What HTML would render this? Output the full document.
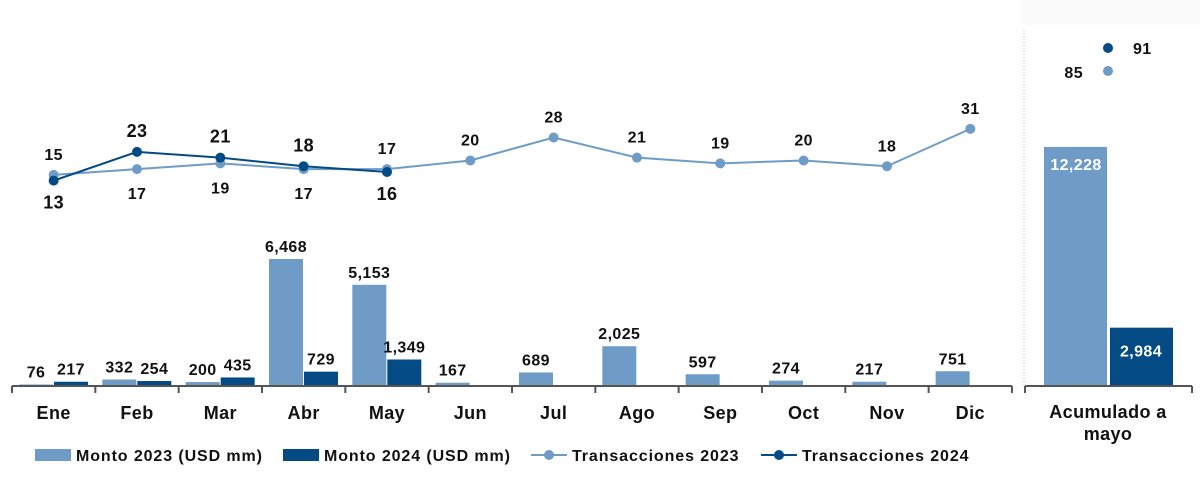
<!DOCTYPE html>
<html><head><meta charset="utf-8"><style>
html,body{margin:0;padding:0;background:#fff;}
svg{display:block;font-family:"Liberation Sans",sans-serif;font-weight:bold;}
</style></head><body>
<svg id="chart" width="1200" height="495" viewBox="0 0 1200 495">
<rect x="1020" y="0" width="180" height="25" fill="#fbfbfb"/>
<g id="bars"></g><g id="lines"></g><g id="labels"></g><g id="axis"></g><g id="legend"></g>
</svg>
<script>
const months=["Ene","Feb","Mar","Abr","May","Jun","Jul","Ago","Sep","Oct","Nov","Dic"];
const monto2023=[76,332,200,6468,5153,167,689,2025,597,274,217,751];
const monto2024=[217,254,435,729,1349];
const trans2023=[15,17,19,17,17,20,28,21,19,20,18,31];
const trans2024=[13,23,21,18,16];
const acumMonto=[12228,2984];
const acumTrans=[85,91];
const C1="#6f9cc7",C2="#044a84",NS="http://www.w3.org/2000/svg";
const base=386,x0=12,cw=83.33;
const yb=v=>base-v*0.01964;
const yl=v=>218-v*2.875;
const xc=i=>x0+cw*i+cw/2;
function mk(p,t,a){const e=document.createElementNS(NS,t);for(const k in a)e.setAttribute(k,a[k]);document.getElementById(p).appendChild(e);return e;}
function tx(p,x,y,s,o){const e=mk(p,"text",Object.assign({x:x,y:y,"text-anchor":"middle","font-size":16,fill:"#111","letter-spacing":0.4},o||{}));e.textContent=s;return e;}
const fmt=v=>v.toLocaleString("en-US");
monto2023.forEach((v,i)=>{const x=x0+cw*i+7;
 const r=mk("bars","rect",{x:x,y:yb(v),width:34,height:base-yb(v),fill:C1});
 
 
 const t=tx("labels",x+17,yb(v)-7,fmt(v));
 
 });
monto2024.forEach((v,i)=>{const x=x0+cw*i+42;
 const r=mk("bars","rect",{x:x,y:yb(v),width:34,height:base-yb(v),fill:C2});
 
 
 const t=tx("labels",x+17,yb(v)-7,fmt(v));
 
 });
function line(arr,col,name){
 const pl=mk("lines","polyline",{points:arr.map((v,i)=>xc(i)+","+yl(v)).join(" "),fill:"none",stroke:col,"stroke-width":2});
 
 
 arr.forEach((v,i)=>{const c=mk("lines","circle",{cx:xc(i),cy:yl(v),r:5,fill:col});
  
  });
}
line(trans2023,C1,"transacciones-2023");
line(trans2024,C2,"transacciones-2024");
trans2023.forEach((v,i)=>{const v2=trans2024[i];
 const above=(v2===undefined)||v>=v2;
 const t=tx("labels",xc(i),above?yl(v)-15:yl(v)+30,String(v),{"font-size":16});
 
 });
trans2024.forEach((v,i)=>{const above=v>trans2023[i];
 const t=tx("labels",xc(i),above?yl(v)-15:yl(v)+28,String(v),{"font-size":18});
 
 });
const ax=mk("axis","line",{x1:x0,y1:base,x2:x0+cw*12,y2:base,stroke:"#555","stroke-width":2});


for(let i=0;i<=12;i++){mk("axis","line",{x1:x0+cw*i,y1:base,x2:x0+cw*i,y2:base+7,stroke:"#555","stroke-width":2});}
months.forEach((m,i)=>{const t=tx("axis",xc(i),base+33,m,{"font-size":18});
 
 });
const sep=mk("axis","line",{x1:1024,y1:30,x2:1024,y2:base,stroke:"#bbb","stroke-width":1,"stroke-dasharray":"1,2"});


mk("axis","line",{x1:1025,y1:base,x2:1192,y2:base,stroke:"#555","stroke-width":2});
mk("axis","line",{x1:1025,y1:base,x2:1025,y2:base+7,stroke:"#555","stroke-width":2});
mk("axis","line",{x1:1192,y1:base,x2:1192,y2:base+7,stroke:"#555","stroke-width":2});
const ab=base-acumMonto[0]*0.01955, ab2=base-acumMonto[1]*0.01955;
const r1=mk("bars","rect",{x:1044,y:ab,width:63,height:base-ab,fill:C1});


const r2=mk("bars","rect",{x:1110,y:ab2,width:63,height:base-ab2,fill:C2});


tx("labels",1076,ab+23,fmt(acumMonto[0]),{fill:"#fff","font-size":16});
tx("labels",1141,ab2+29,fmt(acumMonto[1]),{fill:"#fff","font-size":16});
const d1=mk("lines","circle",{cx:1108,cy:48,r:5,fill:C2});


const d2=mk("lines","circle",{cx:1108,cy:71,r:5,fill:C1});


tx("labels",1133,54,String(acumTrans[1]),{"font-size":16,"text-anchor":"start"});
tx("labels",1083,78,String(acumTrans[0]),{"font-size":16,"text-anchor":"end"});
const a1=tx("axis",1108,418,"Acumulado a",{"font-size":18});


tx("axis",1108,440,"mayo",{"font-size":18});
const leg=[["Monto 2023 (USD mm)",C1,"bar",35],["Monto 2024 (USD mm)",C2,"bar",283],["Transacciones 2023",C1,"line",531],["Transacciones 2024",C2,"line",761]];
leg.forEach(l=>{const g=mk("legend","g",{});
 
 
 if(l[2]==="bar"){const r=document.createElementNS(NS,"rect");r.setAttribute("x",l[3]);r.setAttribute("y",449);r.setAttribute("width",36);r.setAttribute("height",12);r.setAttribute("fill",l[1]);g.appendChild(r);}
 else{const ln=document.createElementNS(NS,"line");ln.setAttribute("x1",l[3]);ln.setAttribute("x2",l[3]+36);ln.setAttribute("y1",455);ln.setAttribute("y2",455);ln.setAttribute("stroke",l[1]);ln.setAttribute("stroke-width",2);g.appendChild(ln);
  const c=document.createElementNS(NS,"circle");c.setAttribute("cx",l[3]+18);c.setAttribute("cy",455);c.setAttribute("r",5);c.setAttribute("fill",l[1]);g.appendChild(c);}
 const t=document.createElementNS(NS,"text");t.setAttribute("x",l[3]+41);t.setAttribute("y",461);t.setAttribute("font-size",16);t.setAttribute("letter-spacing",0.9);t.setAttribute("fill","#111");t.textContent=l[0];g.appendChild(t);});
</script>
</body></html>
